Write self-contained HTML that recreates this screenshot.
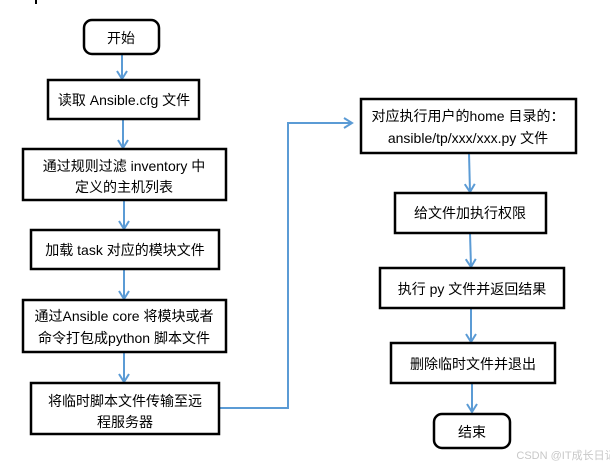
<!DOCTYPE html>
<html><head><meta charset="utf-8"><style>
html,body{margin:0;padding:0;background:#fff;}
svg{display:block;}
text{font-family:"Liberation Sans","Noto Sans CJK SC",sans-serif;font-size:14px;fill:#000;text-anchor:middle;}
.b{fill:#fff;stroke:#000;stroke-width:2.5;}
.l{stroke:#5b9bd5;stroke-width:2;fill:none;}
</style></head><body>
<svg width="610" height="466" viewBox="0 0 610 466">
<defs><marker id="a" markerWidth="12" markerHeight="12" refX="9" refY="6" orient="auto" markerUnits="userSpaceOnUse"><path d="M1,1 L9,6 L1,11" fill="none" stroke="#5b9bd5" stroke-width="2"/></marker></defs>
<line x1="36" y1="0" x2="36" y2="4" stroke="#000" stroke-width="2"/>
<!-- left arrows -->
<line class="l" x1="122" y1="54" x2="122" y2="79" marker-end="url(#a)"/>
<line class="l" x1="123" y1="119" x2="123" y2="148" marker-end="url(#a)"/>
<line class="l" x1="124" y1="200" x2="124" y2="229" marker-end="url(#a)"/>
<line class="l" x1="124" y1="269" x2="124" y2="299" marker-end="url(#a)"/>
<line class="l" x1="124" y1="352" x2="124" y2="382" marker-end="url(#a)"/>
<polyline class="l" points="219,408 288,408 288,123 352,123" marker-end="url(#a)"/>
<!-- right arrows -->
<line class="l" x1="469" y1="153" x2="470" y2="192" marker-end="url(#a)"/>
<line class="l" x1="470" y1="233" x2="471" y2="267" marker-end="url(#a)"/>
<line class="l" x1="471" y1="308" x2="471" y2="342" marker-end="url(#a)"/>
<line class="l" x1="472" y1="383" x2="472" y2="412" marker-end="url(#a)"/>
<!-- left boxes -->
<rect class="b" x="84" y="20" width="75" height="34" rx="8"/>
<text x="121" y="43">开始</text>
<rect class="b" x="48" y="80" width="151" height="39"/>
<text x="124" y="105">读取 Ansible.cfg 文件</text>
<rect class="b" x="23" y="149" width="203" height="51"/>
<text x="124" y="171">通过规则过滤 inventory 中</text>
<text x="124" y="192">定义的主机列表</text>
<rect class="b" x="31" y="230" width="188" height="39"/>
<text x="125" y="255">加载 task 对应的模块文件</text>
<rect class="b" x="23" y="300" width="203" height="52"/>
<text x="124" y="321">通过Ansible core 将模块或者</text>
<text x="124" y="343">命令打包成python 脚本文件</text>
<rect class="b" x="31" y="383" width="188" height="51"/>
<text x="125" y="406">将临时脚本文件传输至远</text>
<text x="125" y="427">程服务器</text>
<!-- right boxes -->
<rect class="b" x="361" y="99" width="215" height="54"/>
<text x="468" y="121">对应执行用户的home 目录的：</text>
<text x="468" y="143">ansible/tp/xxx/xxx.py 文件</text>
<rect class="b" x="395" y="193" width="151" height="40"/>
<text x="470" y="218">给文件加执行权限</text>
<rect class="b" x="380" y="268" width="184" height="40"/>
<text x="472" y="294">执行 py 文件并返回结果</text>
<rect class="b" x="391" y="343" width="164" height="40"/>
<text x="473" y="369">删除临时文件并退出</text>
<rect class="b" x="434" y="414" width="76" height="34" rx="8"/>
<text x="472" y="437">结束</text>
<text x="566" y="459" style="font-size:11px;fill:#c8c8c8">CSDN @IT成长日记</text>
</svg>
</body></html>
